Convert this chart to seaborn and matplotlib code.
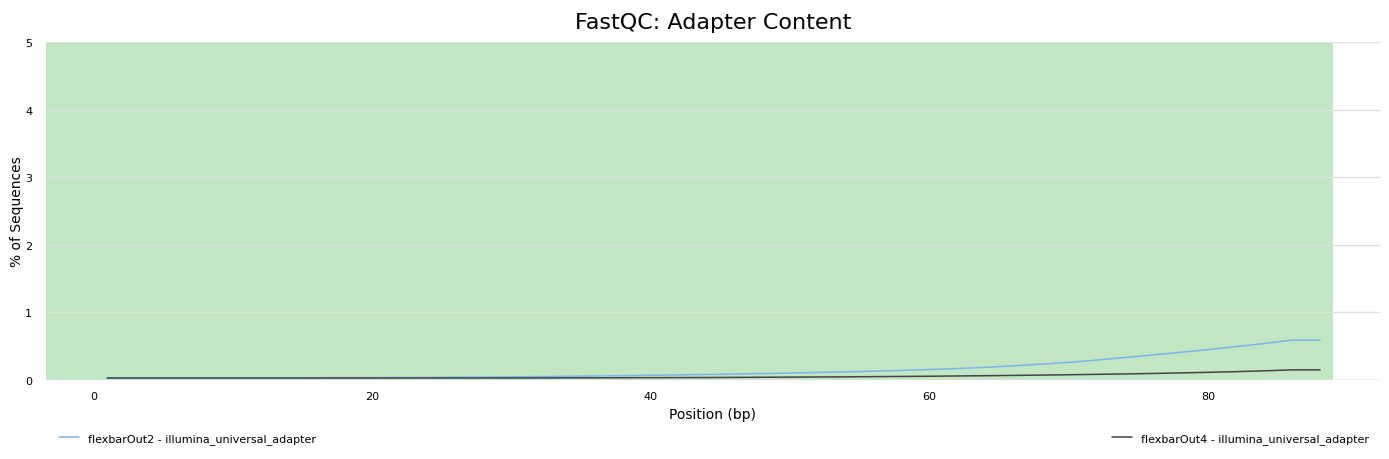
import pandas as pd
import matplotlib
matplotlib.use("Agg")
import matplotlib.pyplot as plt
import seaborn as sns

sns.set_theme(style="white")
plt.rcParams['font.family'] = ['DejaVu Sans']
plt.rcParams['text.color'] = 'black'
plt.rcParams['axes.labelcolor'] = 'black'
plt.rcParams['xtick.color'] = 'black'
plt.rcParams['ytick.color'] = 'black'

# FastQC position bins (bp)
POSITIONS = [1, 2, 3, 4, 5, 6, 7, 8, 9,
             10, 12, 14, 16, 18, 20, 22, 24, 26, 28,
             30, 32, 34, 36, 38, 40, 42, 44, 46, 48,
             50, 52, 54, 56, 58, 60, 62, 64, 66, 68,
             70, 72, 74, 76, 78, 80, 82, 84, 86, 88]

OUT2 = [0.030, 0.030, 0.030, 0.030, 0.030, 0.030, 0.030, 0.030, 0.030,
        0.031, 0.031, 0.032, 0.033, 0.034, 0.035, 0.037, 0.039, 0.041, 0.044,
        0.047, 0.051, 0.055, 0.060, 0.065, 0.070, 0.076, 0.082, 0.089, 0.096,
        0.104, 0.112, 0.121, 0.131, 0.142, 0.155, 0.170, 0.188, 0.210, 0.235,
        0.262, 0.295, 0.333, 0.370, 0.410, 0.450, 0.495, 0.540, 0.590, 0.590]

OUT4 = [0.030, 0.030, 0.030, 0.030, 0.030, 0.030, 0.030, 0.030, 0.030,
        0.030, 0.030, 0.030, 0.030, 0.030, 0.030, 0.030, 0.030, 0.030, 0.030,
        0.030, 0.031, 0.032, 0.033, 0.034, 0.035, 0.036, 0.037, 0.039, 0.041,
        0.043, 0.045, 0.047, 0.050, 0.053, 0.056, 0.060, 0.064, 0.068, 0.073,
        0.078, 0.084, 0.090, 0.097, 0.105, 0.114, 0.124, 0.136, 0.150, 0.150]

SAMPLES = ["flexbarOut2 - illumina_universal_adapter",
           "flexbarOut4 - illumina_universal_adapter"]
COLORS = ["#7cb5ec", "#434348"]

df = pd.concat([
    pd.DataFrame({"pos": POSITIONS, "pct": OUT2, "sample": SAMPLES[0]}),
    pd.DataFrame({"pos": POSITIONS, "pct": OUT4, "sample": SAMPLES[1]}),
])

fig = plt.figure(figsize=(13.89, 4.6), dpi=100)
ax = fig.add_axes([0.0331, 0.1717, 0.9604, 0.7348])

# green "pass" band behind the data
ax.axhspan(0, 5, xmin=0, xmax=(88.9 + 3.4) / (92.3 + 3.4),
           color="#c3e6c3", zorder=0, lw=0)

sns.lineplot(data=df, x="pos", y="pct", hue="sample", palette=COLORS,
             linewidth=1.1, ax=ax, legend=False, zorder=3)

ax.set_xlim(-3.4, 92.3)
ax.set_ylim(0, 5)
ax.set_xticks([0, 20, 40, 60, 80])
ax.set_yticks([0, 1, 2, 3, 4, 5])
ax.tick_params(axis="both", labelsize=8, length=0, pad=8)
ax.tick_params(axis="y", pad=10)
ax.yaxis.grid(True, color="#e0e0e0", linewidth=1, zorder=1)
ax.set_axisbelow(False)
for s in ax.spines.values():
    s.set_visible(False)
ax.axhline(0, color="#dddddd", lw=1, zorder=2)

ax.set_xlabel("Position (bp)", fontsize=10)
ax.set_ylabel("% of Sequences", fontsize=10, labelpad=1)
ax.set_title("FastQC: Adapter Content", fontsize=16, pad=10)

handles = [plt.Line2D([], [], color=c, lw=1.1) for c in COLORS]
fig.legend(handles[:1], SAMPLES[:1], loc="center left",
           bbox_to_anchor=(0.035, 0.045), frameon=False, fontsize=8,
           handlelength=1.8)
fig.legend(handles[1:], SAMPLES[1:], loc="center right",
           bbox_to_anchor=(0.993, 0.045), frameon=False, fontsize=8,
           handlelength=1.8)

fig.savefig("out.png", dpi=100)
